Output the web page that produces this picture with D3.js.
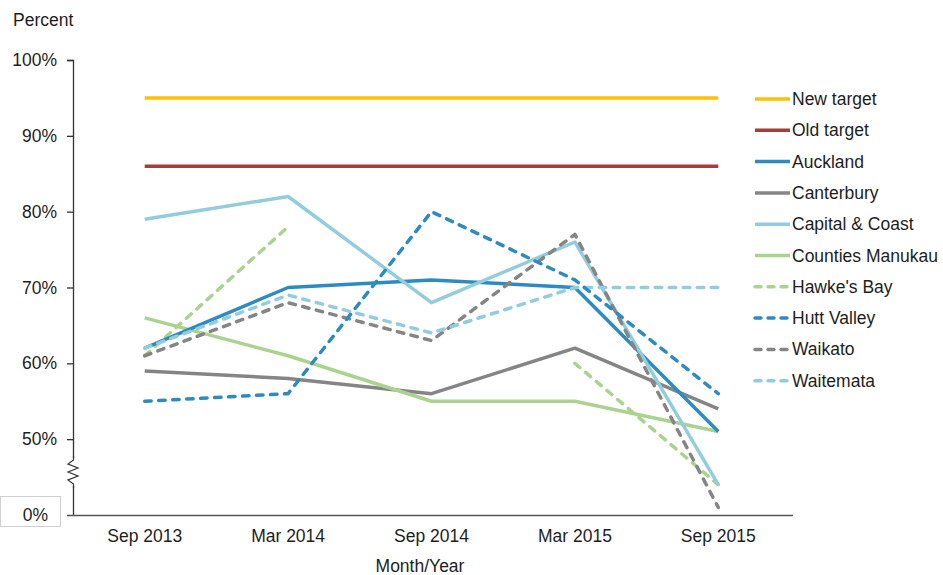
<!DOCTYPE html>
<html>
<head>
<meta charset="utf-8">
<script src="https://cdn.jsdelivr.net/npm/d3@7"></script>
<style>
  html, body { margin: 0; padding: 0; background: #fff; }
  svg { display: block; font-family: "Liberation Sans", Arial, sans-serif; }
</style>
</head>
<body>
<svg id="chart" width="943" height="575"></svg>
<script>
// ---------- DATA ----------
const categories = ["Sep 2013", "Mar 2014", "Sep 2014", "Mar 2015", "Sep 2015"];
const seriesNames = ["New target", "Old target", "Auckland", "Canterbury", "Capital & Coast",
  "Counties Manukau", "Hawke's Bay", "Hutt Valley", "Waikato", "Waitemata"];
const newTarget       = [95, 95, 95, 95, 95];
const oldTarget       = [86, 86, 86, 86, 86];
const auckland        = [62, 70, 71, 70, 51];
const canterbury      = [59, 58, 56, 62, 54];
const capitalCoast    = [79, 82, 68, 76, 44];
const countiesManukau = [66, 61, 55, 55, 51];
const hawkesBay       = [61, 78, null, 60, 44];
const huttValley      = [55, 56, 80, 71, 56];
const waikato         = [61, 68, 63, 77, 41];
const waitemata       = [62, 69, 64, 70, 70];
const yTickValues = [50, 60, 70, 80, 90, 100];
const yTickLabels = ["50%", "60%", "70%", "80%", "90%", "100%"];
const yBreakLabel = "0%";
const yTitle = "Percent";
const xTitle = "Month/Year";

// ---------- STYLE ----------
const seriesValues = [newTarget, oldTarget, auckland, canterbury, capitalCoast,
  countiesManukau, hawkesBay, huttValley, waikato, waitemata];
const colors = ["#FFC000", "#A33F3B", "#2E8BC2", "#858585", "#93CDDD",
  "#A9D38F", "#A9D38F", "#2E8BC2", "#858585", "#93CDDD"];
const dashed = [false, false, false, false, false, false, true, true, true, true];
const FS = 17.5;

const svg = d3.select("#chart");
const x = d3.scaleBand().domain(categories).range([73, 790]);
const y = d3.scaleLinear().domain([40, 100]).range([515, 60]);
const xc = c => x(c) + x.bandwidth() / 2;

// Y axis
const yAxis = d3.axisLeft(y).tickValues(yTickValues)
  .tickFormat((d, i) => yTickLabels[i]).tickSize(6).tickPadding(10);
const gy = svg.append("g").attr("transform", "translate(73,0)").call(yAxis);
gy.select(".domain").attr("d", "M-6,60.5H0.5V515").attr("stroke", "#333").attr("stroke-width", 1.3);
gy.selectAll(".tick line").attr("stroke", "#333").attr("stroke-width", 1.3);
gy.selectAll(".tick text").attr("font-size", FS).attr("fill", "#1e1e1e")
  .attr("font-family", "Liberation Sans, Arial, sans-serif");

// break symbol on axis
svg.append("rect").attr("x", 68).attr("y", 458).attr("width", 11).attr("height", 28).attr("fill", "#fff");
svg.append("path")
  .attr("d", "M73.5,456 L73.5,460 L68,464 L78,468 L68,472 L78,476 L68,480 L73.5,484 L73.5,488")
  .attr("fill", "none").attr("stroke", "#333").attr("stroke-width", 1.2);

// 0% box label
svg.append("rect").attr("x", 0.5).attr("y", 496.5).attr("width", 60).attr("height", 30)
  .attr("fill", "#fff").attr("stroke", "#d0d0d0");
svg.append("text").attr("x", 48).attr("y", y(40) + 6).attr("text-anchor", "end")
  .attr("font-size", FS).attr("fill", "#1e1e1e").text(yBreakLabel);

// X axis
const xAxis = d3.axisBottom(x).tickSize(0).tickPadding(15);
const gx = svg.append("g").attr("transform", "translate(0,515)").call(xAxis);
gx.select(".domain").attr("d", "M67,0.5H793").attr("stroke", "#555").attr("stroke-width", 1.5);
gx.selectAll(".tick text").attr("font-size", FS).attr("fill", "#1e1e1e")
  .attr("font-family", "Liberation Sans, Arial, sans-serif");

// Titles
svg.append("text").attr("x", 13).attr("y", 26).attr("font-size", FS).attr("fill", "#1e1e1e").text(yTitle);
svg.append("text").attr("x", 420).attr("y", 572).attr("text-anchor", "middle")
  .attr("font-size", FS).attr("fill", "#1e1e1e").text(xTitle);

// Lines
const line = d3.line().defined(d => d.v !== null).x(d => xc(d.c)).y(d => y(d.v));
const order = [0, 1, 3, 5, 6, 2, 4, 8, 9, 7];
order.forEach(i => {
  const pts = categories.map((c, j) => ({ c, v: seriesValues[i][j] }));
  svg.append("path").datum(pts).attr("d", line)
    .attr("fill", "none").attr("stroke", colors[i]).attr("stroke-width", 3.5)
    .attr("stroke-linejoin", "round")
    .attr("stroke-linecap", dashed[i] ? "round" : "butt")
    .attr("stroke-dasharray", dashed[i] ? "6.5,7.5" : null);
});

// Legend
const lg = svg.append("g");
seriesNames.forEach((name, i) => {
  const ly = 99 + i * 31.3;
  lg.append("line").attr("x1", 755).attr("x2", 790).attr("y1", ly).attr("y2", ly)
    .attr("stroke", colors[i]).attr("stroke-width", 3.5)
    .attr("stroke-linecap", dashed[i] ? "round" : "butt")
    .attr("stroke-dasharray", dashed[i] ? "6,7" : null);
  lg.append("text").attr("x", 792).attr("y", ly + 6).attr("font-size", FS)
    .attr("fill", "#1e1e1e").text(name);
});
</script>
</body>
</html>
